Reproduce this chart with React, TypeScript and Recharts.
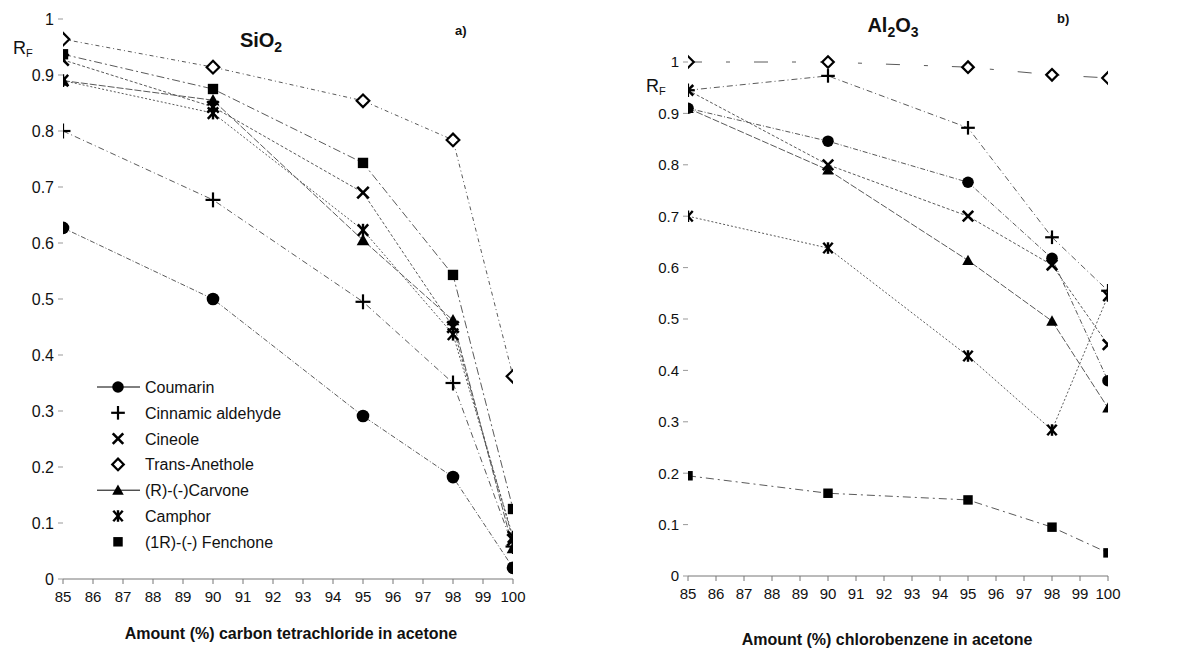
import React from 'react';
import { LineChart, Line, XAxis, YAxis } from 'recharts';

// ---------- data ----------
const xValues = [85, 90, 95, 98, 100];
const xTicks = [85, 86, 87, 88, 89, 90, 91, 92, 93, 94, 95, 96, 97, 98, 99, 100];
const yTicks = [0, 0.1, 0.2, 0.3, 0.4, 0.5, 0.6, 0.7, 0.8, 0.9, 1];

const seriesNames = [
  'Coumarin',
  'Cinnamic aldehyde',
  'Cineole',
  'Trans-Anethole',
  '(R)-(-)Carvone',
  'Camphor',
  '(1R)-(-) Fenchone',
];

// SiO2 panel (carbon tetrachloride in acetone)
const siCoumarin = [0.627, 0.5, 0.291, 0.182, 0.02];
const siCinnamic = [0.8, 0.677, 0.495, 0.35, 0.058];
const siCineole = [0.927, 0.843, 0.69, 0.45, 0.07];
const siAnethole = [0.964, 0.914, 0.854, 0.784, 0.362];
const siCarvone = [0.89, 0.855, 0.605, 0.462, 0.055];
const siCamphor = [0.89, 0.832, 0.623, 0.437, 0.075];
const siFenchone = [0.937, 0.875, 0.743, 0.543, 0.125];

// Al2O3 panel (chlorobenzene in acetone)
const alCoumarin = [0.91, 0.846, 0.766, 0.618, 0.38];
const alCinnamic = [0.945, 0.973, 0.872, 0.659, 0.555];
const alCineole = [0.945, 0.8, 0.7, 0.605, 0.45];
const alAnethole = [1.0, 1.0, 0.99, 0.975, 0.969];
const alCarvone = [0.91, 0.79, 0.614, 0.496, 0.327];
const alCamphor = [0.7, 0.638, 0.428, 0.284, 0.545];
const alFenchone = [0.195, 0.161, 0.148, 0.095, 0.045];

const keys = ['coumarin', 'cinnamic', 'cineole', 'anethole', 'carvone', 'camphor', 'fenchone'];
const markerKinds = ['circle', 'plus', 'cross', 'diamond', 'triangle', 'star', 'square'];

function buildRows(series: number[][]) {
  return xValues.map((x, i) => {
    const row: Record<string, number> = { x };
    keys.forEach((k, j) => {
      row[k] = series[j][i];
    });
    return row;
  });
}

const siRows = buildRows([siCoumarin, siCinnamic, siCineole, siAnethole, siCarvone, siCamphor, siFenchone]);
const alRows = buildRows([alCoumarin, alCinnamic, alCineole, alAnethole, alCarvone, alCamphor, alFenchone]);

// ---------- styles ----------
const FONT = '"Liberation Sans", Arial, sans-serif';
const LINE_COLOR = '#5a5a5a';
const dashes = ['5 2 1 2', '6 3 1 3', '3 2', '4 3 1 3', '7 2', '2 2', '8 3 2 3'];
const alDashes = ['5 2 1 2', '6 3 1 3', '3 2', '14 24 4 24', '7 2', '2 2', '8 4 2 4'];

function Marker({ kind, cx, cy, s = 1 }: { kind: string; cx: number; cy: number; s?: number }) {
  const c = '#000';
  switch (kind) {
    case 'circle':
      return <circle cx={cx} cy={cy} r={5.5 * s} fill={c} />;
    case 'plus':
      return (
        <g stroke={c} strokeWidth={2.2}>
          <line x1={cx - 6.5 * s} y1={cy} x2={cx + 6.5 * s} y2={cy} />
          <line x1={cx} y1={cy - 6.5 * s} x2={cx} y2={cy + 6.5 * s} />
        </g>
      );
    case 'cross':
      return (
        <g stroke={c} strokeWidth={2.6}>
          <line x1={cx - 5 * s} y1={cy - 5 * s} x2={cx + 5 * s} y2={cy + 5 * s} />
          <line x1={cx - 5 * s} y1={cy + 5 * s} x2={cx + 5 * s} y2={cy - 5 * s} />
        </g>
      );
    case 'diamond': {
      const d = 5.5 * s;
      return (
        <polygon
          points={`${cx},${cy - d} ${cx + d},${cy} ${cx},${cy + d} ${cx - d},${cy}`}
          fill="#fff"
          stroke={c}
          strokeWidth={2.2}
        />
      );
    }
    case 'triangle': {
      const d = 5.5 * s;
      return (
        <polygon points={`${cx},${cy - d} ${cx + d},${cy + d * 0.8} ${cx - d},${cy + d * 0.8}`} fill={c} />
      );
    }
    case 'star':
      return (
        <g stroke={c} strokeWidth={2.4}>
          <line x1={cx - 4.5 * s} y1={cy - 5 * s} x2={cx + 4.5 * s} y2={cy + 5 * s} />
          <line x1={cx - 4.5 * s} y1={cy + 5 * s} x2={cx + 4.5 * s} y2={cy - 5 * s} />
          <line x1={cx} y1={cy - 5.5 * s} x2={cx} y2={cy + 5.5 * s} />
        </g>
      );
    case 'square':
    default: {
      const d = 4.5 * s;
      return <rect x={cx - d} y={cy - d} width={2 * d} height={2 * d} fill={c} />;
    }
  }
}

function makeDot(kind: string, s: number) {
  return (p: any) => {
    const { cx, cy, index } = p;
    if (cx == null || cy == null) return <g key={`e-${index}`} />;
    return (
      <g key={`${kind}-${index}`}>
        <Marker kind={kind} cx={cx} cy={cy} s={s} />
      </g>
    );
  };
}

const yFmt = (v: number) => (v === 0 ? '0' : v === 1 ? '1' : v.toFixed(1));

function LegendBox() {
  const rows = seriesNames.map((n, i) => ({ n, kind: markerKinds[i], line: i === 0 || i === 4 }));
  return (
    <svg width={240} height={185} style={{ overflow: 'visible', display: 'block' }}>
      {rows.map((r, i) => {
        const y = 12 + i * 25.8;
        return (
          <g key={r.n}>
            {r.line && <line x1={2} y1={y} x2={45} y2={y} stroke="#000" strokeWidth={1} />}
            <Marker kind={r.kind} cx={23} cy={y} s={1.05} />
            <text x={50} y={y + 6} fontSize={16} fontFamily={FONT} fill="#111">
              {r.n}
            </text>
          </g>
        );
      })}
    </svg>
  );
}

function Panel({
  rows,
  width,
  height,
  margin,
  dashArr,
  s,
  yFont,
  xFont,
}: {
  rows: any[];
  width: number;
  height: number;
  margin: any;
  dashArr: string[];
  s: number;
  yFont: number;
  xFont: number;
}) {
  return (
    <LineChart width={width} height={height} data={rows} margin={margin}>
      <XAxis
        dataKey="x"
        type="number"
        domain={[85, 100]}
        ticks={xTicks}
        interval={0}
        allowDataOverflow
        tick={{ fontSize: xFont, fontFamily: FONT, fill: '#111' }}
        stroke="#777"
        tickSize={5}
        tickMargin={7}
        height={30}
      />
      <YAxis
        type="number"
        domain={[0, 1]}
        ticks={yTicks}
        interval={0}
        tickFormatter={yFmt}
        axisLine={false}
        tick={{ fontSize: yFont, fontFamily: FONT, fill: '#111' }}
        tickLine={{ stroke: '#999' }}
        tickSize={5}
        tickMargin={4}
        width={40}
      />
      {keys.map((k, i) => (
        <Line
          key={k}
          dataKey={k}
          name={seriesNames[i]}
          type="linear"
          stroke={LINE_COLOR}
          strokeWidth={1}
          strokeDasharray={dashArr[i]}
          dot={makeDot(markerKinds[i], s)}
          activeDot={false}
          isAnimationActive={false}
        />
      ))}
    </LineChart>
  );
}

export default function App() {
  return (
    <div
      style={{
        position: 'absolute',
        left: 0,
        top: 0,
        width: 1187,
        height: 651,
        background: '#fff',
        overflow: 'hidden',
      }}
    >
      <div style={{ position: 'absolute', left: 0, top: 0 }}>
        <Panel
          rows={siRows}
          width={560}
          height={651}
          margin={{ top: 19, right: 47, bottom: 42, left: 23 }}
          dashArr={dashes}
          s={1.15}
          yFont={16}
          xFont={15}
        />
      </div>
      <div style={{ position: 'absolute', left: 600, top: 0 }}>
        <Panel
          rows={alRows}
          width={587}
          height={651}
          margin={{ top: 62, right: 79, bottom: 45, left: 48 }}
          dashArr={alDashes}
          s={1.05}
          yFont={15}
          xFont={15}
        />
      </div>
      <div style={{ position: 'absolute', left: 95, top: 375 }}>
        <LegendBox />
      </div>
      <svg
        width={1187}
        height={651}
        style={{ position: 'absolute', left: 0, top: 0, pointerEvents: 'none' }}
        fontFamily={FONT}
      >
        {/* left panel texts */}
        <text x={261} y={47} fontSize={20} fontWeight="bold" textAnchor="middle" fill="#111">
          SiO
          <tspan fontSize={14} dy={5}>
            2
          </tspan>
        </text>
        <text x={455} y={35} fontSize={13} fontWeight="bold" fill="#111">
          a)
        </text>
        <text x={13} y={54} fontSize={18} fill="#111">
          R
          <tspan fontSize={11} dy={3}>
            F
          </tspan>
        </text>
        <text x={291} y={639} fontSize={16} fontWeight="bold" textAnchor="middle" fill="#111">
          Amount (%) carbon tetrachloride in acetone
        </text>
        {/* right panel texts */}
        <text x={893} y={32} fontSize={20} fontWeight="bold" textAnchor="middle" fill="#111">
          Al
          <tspan fontSize={14} dy={5}>
            2
          </tspan>
          <tspan fontSize={20} dy={-5}>
            O
          </tspan>
          <tspan fontSize={14} dy={5}>
            3
          </tspan>
        </text>
        <text x={1057} y={23} fontSize={13} fontWeight="bold" fill="#111">
          b)
        </text>
        <text x={646} y={92} fontSize={18} fill="#111">
          R
          <tspan fontSize={11} dy={3}>
            F
          </tspan>
        </text>
        <text x={887} y={645} fontSize={16} fontWeight="bold" textAnchor="middle" fill="#111">
          Amount (%) chlorobenzene in acetone
        </text>
      </svg>
    </div>
  );
}
